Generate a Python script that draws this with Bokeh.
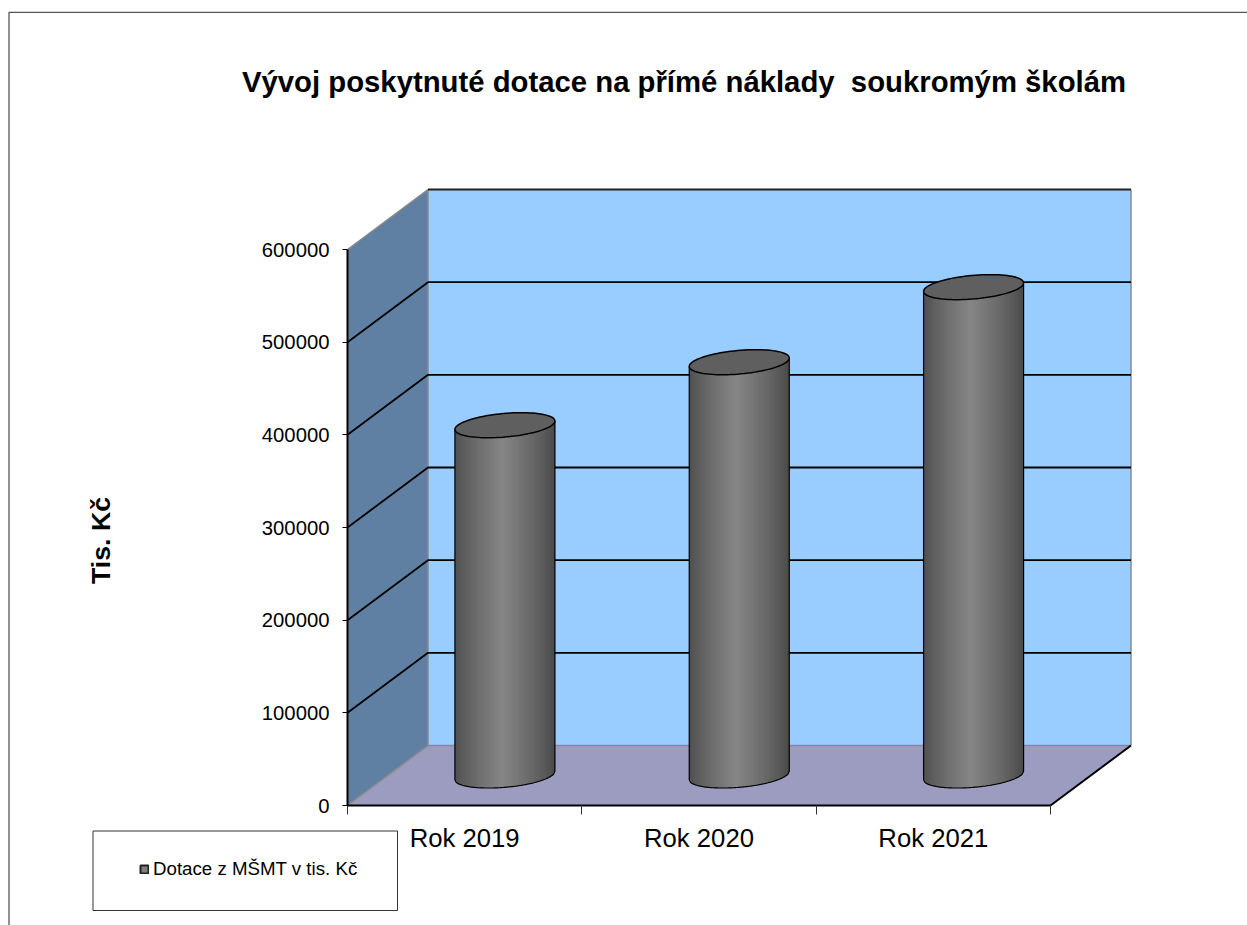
import math
from bokeh.plotting import figure
from bokeh.models import FixedTicker, Label, Legend, LegendItem, Range1d
from bokeh.embed import file_html
from bokeh.resources import INLINE

# --- data ---
years = ["Rok 2019", "Rok 2020", "Rok 2021"]
values = [378000, 446000, 527000]
y_ticks = [0, 100000, 200000, 300000, 400000, 500000, 600000]
series_name = "Dotace z MŠMT v tis. Kč"
title_text = "Vývoj poskytnuté dotace na přímé náklady \u00a0soukromým školám"
y_title = "Tis. Kč"

# --- canvas and plot-box geometry (pixels) ---
W, H = 1247, 925
ORIGIN_PX = (347, 805)
PX_PER_CAT = 234.33
PX_PER_UNIT = 556 / 600000


def dx(px):
    return (px - ORIGIN_PX[0]) / PX_PER_CAT


def dy(py):
    return (ORIGIN_PX[1] - py) * (1 / PX_PER_UNIT)


# --- 3D look, in data units ---
DX = 80.5 / PX_PER_CAT   # depth: categories
DY = 60 / PX_PER_UNIT    # depth: value units
HALF_W = 50 / PX_PER_CAT
ELL_B = 11.8 / PX_PER_UNIT
ELL_S = 4.2 / PX_PER_UNIT
WALL_TOP = y_ticks[-1]
N_STRIPS = 50

p = figure(width=W, height=H, output_backend="svg", toolbar_location=None,
           x_range=Range1d(dx(0), dx(W)), y_range=Range1d(dy(H), dy(0)),
           min_border=0, outline_line_color=None, border_fill_color="white",
           background_fill_color="white")
p.grid.visible = False

# chart frame
p.line([dx(8.5), dx(8.5), dx(W)], [dy(H), dy(11.8), dy(11.8)], line_color="#555555", line_width=1.3)

# the legend's key takes its look from this renderer, which lies hidden behind the back wall
key = p.quad(left=[1], right=[1], top=[WALL_TOP / 2], bottom=[WALL_TOP / 2],
             fill_color="#7f7f7f", line_color="#222222", line_width=2)

# walls
xmax = len(years)
p.patch([0, DX, DX, 0], [0, DY, WALL_TOP + DY, WALL_TOP], fill_color="#6080a3", line_color=None)
p.patch([DX, xmax + DX, xmax + DX, DX], [DY, DY, WALL_TOP + DY, WALL_TOP + DY], fill_color="#99ccff", line_color=None)
p.patch([0, xmax, xmax + DX, DX], [0, 0, DY, DY], fill_color="#9c9bc0", line_color=None)

# edges
p.multi_line([[DX, DX], [xmax + DX, xmax + DX], [DX, xmax + DX], [0, DX], [0, DX]],
             [[DY, WALL_TOP + DY], [DY, WALL_TOP + DY], [DY, DY], [0, DY], [WALL_TOP, WALL_TOP + DY]],
             line_color="#8a8a8a", line_width=1.5)
p.line([DX, xmax + DX], [WALL_TOP + DY, WALL_TOP + DY], line_color="#222222", line_width=2)
p.line([xmax, xmax + DX], [0, DY], line_color="#000000", line_width=2)

# grid lines, on the side wall and on the back wall
grid = [t for t in y_ticks if 0 < t < WALL_TOP]
p.multi_line([[0, DX, xmax + DX] for t in grid], [[t, t + DY, t + DY] for t in grid],
             line_color="#000000", line_width=1.8)


def grey(frac):
    lo_l, hi, lo_r = 0x4e, 0x86, 0x48
    peak = 0.47
    if frac < peak:
        v = lo_l + (hi - lo_l) * (frac / peak) ** 0.8
    else:
        v = lo_r + (hi - lo_r) * ((1 - frac) / (1 - peak)) ** 0.8
    v = int(round(v))
    return f"#{v:02x}{v:02x}{v:02x}"


strip_xs, strip_ys, strip_cols, out_xs, out_ys, top_xs, top_ys = [], [], [], [], [], [], []
for i, val in enumerate(values):
    cx = i + 0.5 + DX / 2
    base = DY / 2
    top = val + DY / 2

    def low(c):
        return base - ELL_B * math.sqrt(max(0, 1 - c * c)) + ELL_S * c

    for k in range(N_STRIPS):
        c0 = -1 + 2 * k / N_STRIPS
        c1 = min(1, -1 + 2 * (k + 2) / N_STRIPS)   # overlaps the next strip, so no seams show
        x0, x1 = cx + HALF_W * c0, cx + HALF_W * c1
        strip_xs.append([x0, x1, x1, x0])
        strip_ys.append([low(c0), low(c1), top + ELL_S * c1, top + ELL_S * c0])
        strip_cols.append(grey((k + 0.5) / N_STRIPS))
    cs = [-1 + 2 * k / 80 for k in range(81)]
    out_xs.append([cx - HALF_W, *[cx + HALF_W * c for c in cs], cx + HALF_W])
    out_ys.append([top - ELL_S, *[low(c) for c in cs], top + ELL_S])
    ts = [2 * math.pi * k / 90 for k in range(91)]
    top_xs.append([cx + HALF_W * math.cos(t) for t in ts])
    top_ys.append([top + ELL_B * math.sin(t) + ELL_S * math.cos(t) for t in ts])

p.patches(strip_xs, strip_ys, fill_color=strip_cols, line_color=None)
p.multi_line(out_xs, out_ys, line_color="#000000", line_width=1.2)
p.patches(top_xs, top_ys, fill_color="#5f5f5f", line_color="#000000", line_width=1.5)

# axes, pinned to the corner of the plot box
yax = p.yaxis[0]
yax.fixed_location = 0
yax.ticker = FixedTicker(ticks=y_ticks)
yax.bounds = (0, WALL_TOP)
yax.major_label_overrides = {t: str(t) for t in y_ticks}
yax.major_label_text_font = "Liberation Sans"
yax.major_label_text_font_size = "20.3px"
yax.major_label_text_color = "#000000"
yax.major_label_standoff = 13
yax.major_tick_in = 0
yax.major_tick_out = 5
yax.minor_tick_line_color = None
yax.axis_line_color = "#000000"
yax.axis_line_width = 2
yax.major_tick_line_color = "#000000"

xax = p.xaxis[0]
xax.fixed_location = 0
label_pos = [i + 0.5 for i in range(len(years))]
xax.ticker = FixedTicker(ticks=label_pos, minor_ticks=list(range(len(years) + 1)))
xax.bounds = (0, len(years))
xax.major_label_overrides = {pos: name for pos, name in zip(label_pos, years)}
xax.major_label_text_font = "Liberation Sans"
xax.major_label_text_font_size = "25.7px"
xax.major_label_text_color = "#000000"
xax.major_label_standoff = 9
xax.major_tick_line_color = None
xax.major_tick_in = 0
xax.major_tick_out = 0
xax.minor_tick_in = 0
xax.minor_tick_out = 9
xax.minor_tick_line_color = "#333333"
xax.axis_line_color = "#000000"
xax.axis_line_width = 2

# titles
p.add_layout(Label(x=dx(683.5), y=dy(81), text=title_text, text_align="center", text_baseline="alphabetic",
                   text_font="Liberation Sans", text_font_style="bold", text_font_size="29.3px",
                   text_color="#000000"))
p.add_layout(Label(x=dx(100), y=dy(540), text=y_title, angle=math.pi / 2, text_align="center",
                   text_baseline="middle", text_font="Liberation Sans", text_font_style="bold",
                   text_font_size="26.7px", text_color="#000000"))

# legend box and legend
p.quad(left=[dx(92.5)], right=[dx(397)], top=[dy(830.5)], bottom=[dy(910)],
       fill_color="white", line_color="#333333", line_width=1)
legend = Legend(items=[LegendItem(label=series_name, renderers=[key])], location=(139, 45),
                padding=0, margin=0, spacing=0, glyph_width=10, glyph_height=10, label_standoff=4,
                border_line_color=None, background_fill_alpha=0,
                label_text_font="Liberation Sans", label_text_font_size="18.7px", label_text_color="#000000")
p.add_layout(legend)

open("out.html", "w").write(file_html(p, INLINE))
